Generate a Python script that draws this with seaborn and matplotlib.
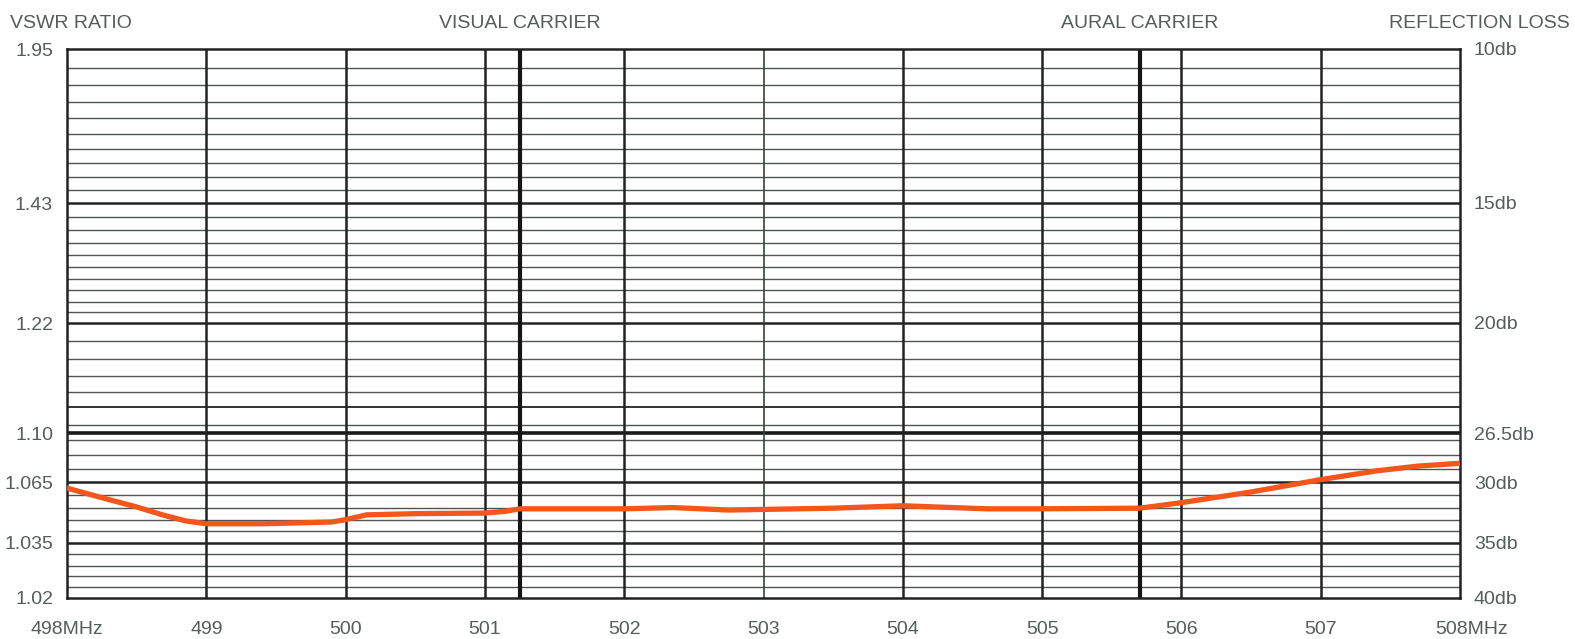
import numpy as np
import pandas as pd
import matplotlib
matplotlib.use("Agg")
import matplotlib.pyplot as plt
from matplotlib import transforms
import seaborn as sns

# ---------------- data ----------------
freq_mhz = [498.0, 498.25, 498.5, 498.7, 498.85, 499.0, 499.4, 499.9, 500.0,
            500.15, 500.5, 501.0, 501.15, 501.25, 502.0, 502.35, 502.75, 503.0,
            503.5, 504.0, 504.6, 505.0, 505.7, 506.0, 506.5, 507.0, 507.4,
            507.7, 508.0]
reflection_loss_db = [30.45, 31.2, 31.95, 32.65, 33.1, 33.35, 33.35, 33.2, 33.0,
                      32.6, 32.5, 32.45, 32.3, 32.1, 32.1, 32.0, 32.2, 32.15,
                      32.05, 31.85, 32.1, 32.1, 32.05, 31.6, 30.75, 29.8, 29.15,
                      28.8, 28.6]

x_ticks = [498, 499, 500, 501, 502, 503, 504, 505, 506, 507, 508]
x_tick_labels = ["498MHz", "499", "500", "501", "502", "503", "504", "505",
                 "506", "507", "508MHz"]
db_ticks = [10, 15, 20, 26.5, 30, 35, 40]
vswr_labels = ["1.95", "1.43", "1.22", "1.10", "1.065", "1.035", "1.02"]
db_labels = ["10db", "15db", "20db", "26.5db", "30db", "35db", "40db"]
minor_db = [10.5, 11, 11.5, 12, 12.5, 13, 13.5, 14, 14.5,
            15.5, 16, 16.5, 17, 17.5, 18, 18.5, 19, 19.5,
            21, 22, 23, 24, 26, 27, 28, 29, 31, 32, 33, 34, 36, 37, 38, 39]
semi_major_db = [25]
major_db = [15, 20, 30, 35]
heavy_db = [26.5]
mhz_lines = [499, 500, 501, 502, 504, 505, 506, 507]
light_mhz_lines = [503]
visual_carrier = 501.25
aural_carrier = 505.7

# ---------------- chart scale (non-linear reflection loss paper) ----------------
_kd = np.log10(np.array([10, 15, 20, 25, 26.5, 30, 35, 40], float))
_kp = np.array([49, 203, 323, 407, 433, 482.3, 542.7, 597.5], float)


def _fwd(v):
    v = np.asarray(v, float)
    lv = np.log10(np.clip(v, 1e-6, None))
    out = np.interp(lv, _kd, _kp)
    s0 = (_kp[1] - _kp[0]) / (_kd[1] - _kd[0])
    s1 = (_kp[-1] - _kp[-2]) / (_kd[-1] - _kd[-2])
    out = np.where(lv < _kd[0], _kp[0] + (lv - _kd[0]) * s0, out)
    out = np.where(lv > _kd[-1], _kp[-1] + (lv - _kd[-1]) * s1, out)
    return out


def _inv(p):
    p = np.asarray(p, float)
    lv = np.interp(p, _kp, _kd)
    s0 = (_kp[1] - _kp[0]) / (_kd[1] - _kd[0])
    s1 = (_kp[-1] - _kp[-2]) / (_kd[-1] - _kd[-2])
    lv = np.where(p < _kp[0], _kd[0] + (p - _kp[0]) / s0, lv)
    lv = np.where(p > _kp[-1], _kd[-1] + (p - _kp[-1]) / s1, lv)
    return 10 ** lv


# ---------------- style ----------------
sns.set_theme(style="white")
plt.rcParams["font.family"] = ["Liberation Sans", "DejaVu Sans"]
TEXT = "#565b5b"
FS = 14

W, H = 1575, 639
fig = plt.figure(figsize=(W / 100, H / 100), dpi=100)
fig.patch.set_facecolor("white")
left_px, right_px, top_px, bot_px = 67, 1460, 49, 597.5
ax = fig.add_axes([left_px / W, 1 - bot_px / H, (right_px - left_px) / W,
                   (bot_px - top_px) / H])

ax.set_yscale("function", functions=(_fwd, _inv))
ax.set_xlim(498, 508)
ax.set_ylim(40, 10)

# grid
for d in minor_db:
    ax.axhline(d, color="#505353", lw=1.0, zorder=1)
for d in semi_major_db:
    ax.axhline(d, color="#333", lw=1.4, zorder=1)
for d in major_db:
    ax.axhline(d, color="#222", lw=1.8, zorder=1)
for d in heavy_db:
    ax.axhline(d, color="#1a1a1a", lw=2.6, zorder=1)
for f in mhz_lines:
    ax.axvline(f, color="#222", lw=1.8, zorder=2)
for f in light_mhz_lines:
    ax.axvline(f, color="#2f4a36", lw=1.2, zorder=2)
for f in (visual_carrier, aural_carrier):
    ax.axvline(f, color="#151515", lw=3.0, zorder=2)

# curve
df = pd.DataFrame({"freq": freq_mhz, "loss": reflection_loss_db})
sns.lineplot(data=df, x="freq", y="loss", ax=ax, color="#f4561c", lw=3.8,
             zorder=5, legend=False)
for ln in ax.lines:
    ln.set_solid_joinstyle("round")
    ln.set_solid_capstyle("round")
ax.set_xlabel("")
ax.set_ylabel("")

# ticks
ax.set_xticks(x_ticks)
ax.set_xticklabels(x_tick_labels)
ax.set_yticks(db_ticks)
ax.set_yticklabels(vswr_labels)
ax.minorticks_off()
ax.tick_params(axis="x", length=0, pad=17, labelsize=FS, labelcolor=TEXT)
ax.tick_params(axis="y", length=0, pad=10, labelsize=FS, labelcolor=TEXT)
last = ax.get_xticklabels()[-1]
last.set_transform(last.get_transform() +
                   transforms.ScaledTranslation(0.12, 0, fig.dpi_scale_trans))

for s in ax.spines.values():
    s.set_color("#222")
    s.set_linewidth(1.8)
    s.set_visible(True)

ax2 = ax.twinx()
ax2.set_yscale("function", functions=(_fwd, _inv))
ax2.set_ylim(40, 10)
ax2.set_yticks(db_ticks)
ax2.set_yticklabels(db_labels)
ax2.minorticks_off()
ax2.tick_params(axis="y", length=0, pad=10, labelsize=FS, labelcolor=TEXT)
for s in ax2.spines.values():
    s.set_visible(False)
ax2.grid(False)
ax.grid(False)

# header texts
fig.text(10 / W, 1 - 23 / H, "VSWR RATIO", ha="left", va="center",
         fontsize=FS, color=TEXT)
fig.text(1570 / W, 1 - 23 / H, "REFLECTION LOSS", ha="right", va="center",
         fontsize=FS, color=TEXT)
trans = transforms.blended_transform_factory(ax.transData, fig.transFigure)
ax.text(visual_carrier, 1 - 23 / H, "VISUAL CARRIER", transform=trans,
        ha="center", va="center", fontsize=FS, color=TEXT)
ax.text(aural_carrier, 1 - 23 / H, "AURAL CARRIER", transform=trans,
        ha="center", va="center", fontsize=FS, color=TEXT)

fig.savefig("out.png", dpi=100, facecolor="white")
